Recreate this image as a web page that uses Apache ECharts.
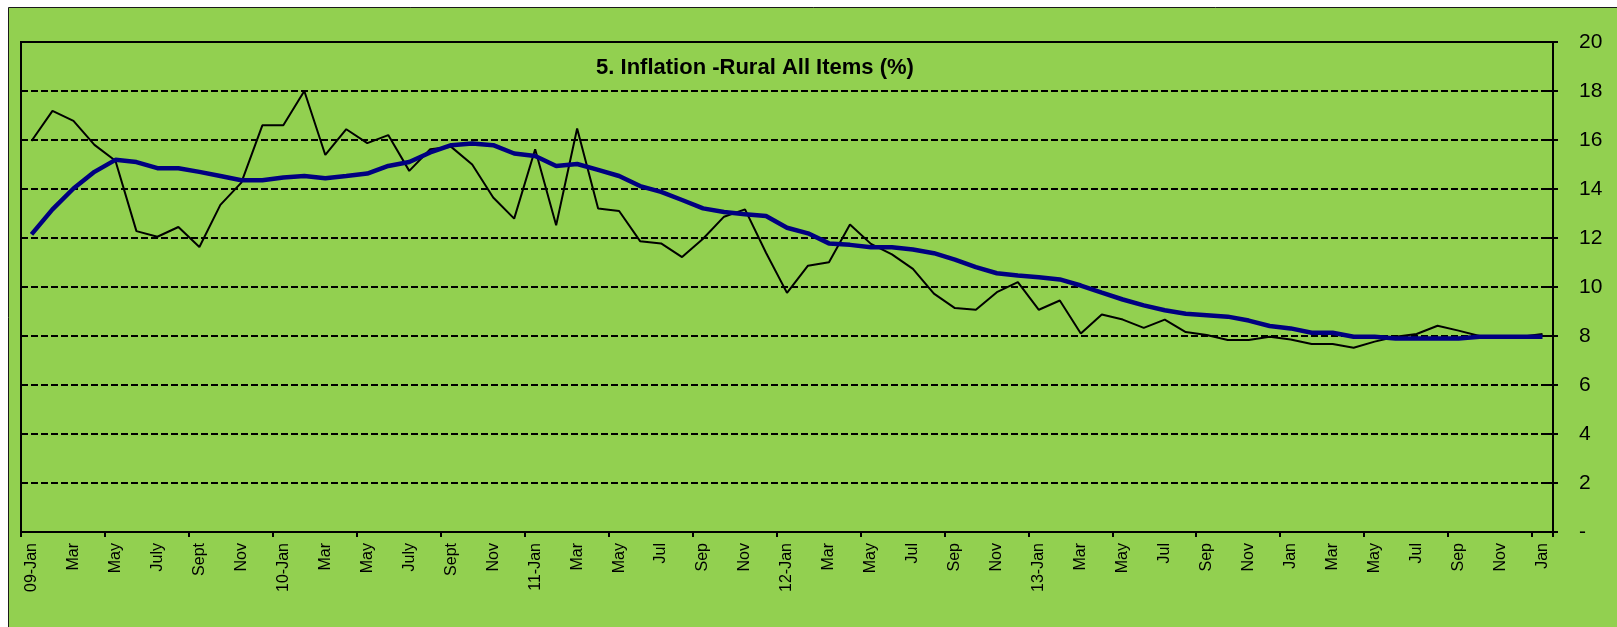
<!DOCTYPE html>
<html>
<head>
<meta charset="utf-8">
<script src="https://cdn.jsdelivr.net/npm/echarts@6/dist/echarts.min.js"></script>
<style>
html,body{margin:0;padding:0;background:#ffffff;}
#chart{width:1617px;height:627px;}
</style>
</head>
<body>
<div id="chart"></div>
<script>
// Monthly categories, Jan 2009 – Jan 2015
const categories = [
  "09-Jan","Feb","Mar","Apr","May","Jun","July","Aug","Sept","Oct","Nov","Dec",
  "10-Jan","Feb","Mar","Apr","May","Jun","July","Aug","Sept","Oct","Nov","Dec",
  "11-Jan","Feb","Mar","Apr","May","Jun","Jul","Aug","Sep","Oct","Nov","Dec",
  "12-Jan","Feb","Mar","Apr","May","Jun","Jul","Aug","Sep","Oct","Nov","Dec",
  "13-Jan","Feb","Mar","Apr","May","Jun","Jul","Aug","Sep","Oct","Nov","Dec",
  "Jan","Feb","Mar","Apr","May","Jun","Jul","Aug","Sep","Oct","Nov","Dec",
  "Jan"
];

// Monthly rural inflation (thin black line)
const monthlyInflation = [
  15.96,17.19,16.78,15.80,15.15,12.28,12.05,12.45,11.63,13.35,14.26,16.60,
  16.60,18.00,15.39,16.44,15.87,16.20,14.74,15.62,15.72,15.00,13.65,12.79,
  15.62,12.52,16.47,13.20,13.10,11.87,11.78,11.22,11.97,12.87,13.17,11.40,
  9.76,10.87,11.01,12.55,11.76,11.33,10.74,9.73,9.14,9.07,9.79,10.20,
  9.07,9.45,8.10,8.88,8.67,8.33,8.67,8.16,8.04,7.84,7.84,7.97,
  7.86,7.67,7.67,7.52,7.77,7.97,8.08,8.42,8.22,8.00,7.97,7.97,
  8.08
];

// Smoothed / average rural inflation (thick navy line)
const averageInflation = [
  12.15,13.17,14.02,14.70,15.19,15.10,14.85,14.85,14.70,14.53,14.36,14.36,
  14.47,14.53,14.44,14.53,14.63,14.94,15.10,15.49,15.79,15.86,15.79,15.45,
  15.35,14.94,15.02,14.78,14.53,14.12,13.88,13.55,13.21,13.06,12.97,12.90,
  12.42,12.19,11.78,11.72,11.62,11.62,11.53,11.38,11.12,10.81,10.56,10.47,
  10.40,10.31,10.06,9.77,9.49,9.25,9.05,8.91,8.85,8.79,8.63,8.41,
  8.31,8.13,8.13,7.97,7.97,7.90,7.90,7.90,7.90,7.97,7.97,7.97,
  7.97
];

const yTicks = [0,2,4,6,8,10,12,14,16,18,20];
const titleText = "5. Inflation -Rural All Items (%)";

const chart = echarts.init(document.getElementById('chart'), null, {renderer:'canvas'});
const FONT = "'Liberation Sans', Arial, sans-serif";

chart.setOption({
  backgroundColor: 'transparent',
  animation: false,
  graphic: [
    {
      type: 'rect', z: -10, silent: true,
      shape: {x: 8.5, y: 7.5, width: 1700, height: 700},
      style: {fill: '#92D050', stroke: '#1a1a1a', lineWidth: 1}
    },
    {
      type: 'text', z: 100,
      x: 755, y: 68,
      style: {
        text: titleText, textAlign: 'center', textVerticalAlign: 'middle',
        font: "bold 22px " + FONT, fill: '#000000'
      }
    }
  ],
  grid: {
    left: 21, right: 64, top: 42, bottom: 95,
    show: true, borderColor: '#000000', borderWidth: 2, backgroundColor: 'transparent'
  },
  xAxis: {
    type: 'category',
    data: categories,
    boundaryGap: true,
    axisLine: {show: true, lineStyle: {color: '#000000', width: 2}},
    axisTick: {show: true, interval: 3, length: 5, lineStyle: {color: '#000000', width: 2}},
    axisLabel: {
      interval: 1, rotate: 90, margin: 11,
      fontFamily: FONT, fontSize: 16, color: '#000000'
    },
    splitLine: {show: false}
  },
  yAxis: [
    {
      type: 'value', position: 'right',
      min: yTicks[0], max: yTicks[yTicks.length - 1], interval: 2,
      axisLine: {show: true, lineStyle: {color: '#000000', width: 2}},
      axisTick: {show: true, length: 5, lineStyle: {color: '#000000', width: 2}},
      axisLabel: {
        margin: 26, fontFamily: FONT, fontSize: 21, color: '#000000',
        formatter: v => (v === 0 ? '-' : String(v))
      },
      splitLine: {show: true, lineStyle: {color: '#000000', width: 2, type: [7, 3]}}
    },
    {
      type: 'value', position: 'right',
      min: yTicks[0], max: yTicks[yTicks.length - 1], interval: 2,
      axisLine: {show: false},
      axisTick: {show: true, inside: true, length: 5, lineStyle: {color: '#000000', width: 2}},
      axisLabel: {show: false},
      splitLine: {show: false}
    }
  ],
  series: [
    {
      name: 'Monthly', type: 'line', data: monthlyInflation,
      yAxisIndex: 0, symbol: 'none', smooth: false, z: 3,
      lineStyle: {color: '#000000', width: 2}
    },
    {
      name: 'Average', type: 'line', data: averageInflation,
      yAxisIndex: 0, symbol: 'none', smooth: false, z: 4,
      lineStyle: {color: '#000080', width: 4.5}
    }
  ]
});
</script>
</body>
</html>
